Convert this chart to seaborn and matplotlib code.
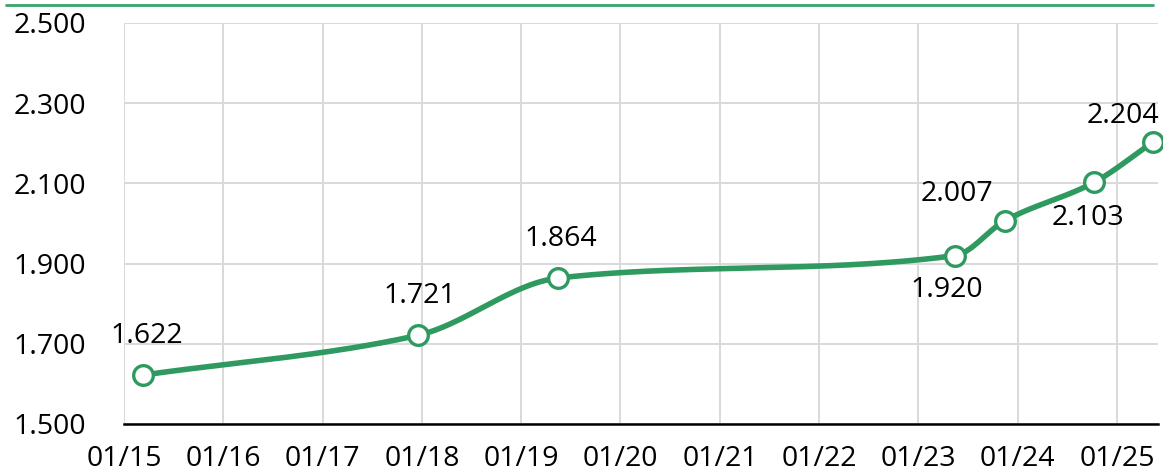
import numpy as np
import pandas as pd
import matplotlib
matplotlib.use("Agg")
import matplotlib.pyplot as plt
import matplotlib.dates as mdates
from matplotlib.lines import Line2D
import seaborn as sns

# data
dates = ["2015-03-12", "2017-12-16", "2019-05-17", "2023-05-15",
         "2023-11-15", "2024-10-09", "2025-05-14"]
values = [1622, 1721, 1864, 1920, 2007, 2103, 2204]
y_ticks = [1500, 1700, 1900, 2100, 2300, 2500]

# label offsets in pixels (dx, dy) relative to each marker
label_offsets = [(4, 39), (2, 39), (3, 39), (-8, -34), (-48, 27), (-6, -36), (-30, 26)]

GREEN = "#2e9a5f"


def pchip(x, y, xs):
    # monotone cubic (Fritsch-Carlson), just for a smooth line like the original
    x = np.asarray(x, float)
    y = np.asarray(y, float)
    h = np.diff(x)
    d = np.diff(y) / h
    m = np.zeros_like(y)
    for k in range(1, len(x) - 1):
        if d[k - 1] * d[k] > 0:
            w1 = 2 * h[k] + h[k - 1]
            w2 = h[k] + 2 * h[k - 1]
            m[k] = (w1 + w2) / (w1 / d[k - 1] + w2 / d[k])
    m[0] = d[0]
    m[-1] = d[-1]
    idx = np.clip(np.searchsorted(x, xs) - 1, 0, len(x) - 2)
    t = (xs - x[idx]) / h[idx]
    h00 = 2 * t**3 - 3 * t**2 + 1
    h10 = t**3 - 2 * t**2 + t
    h01 = -2 * t**3 + 3 * t**2
    h11 = t**3 - t**2
    return h00 * y[idx] + h10 * h[idx] * m[idx] + h01 * y[idx + 1] + h11 * h[idx] * m[idx + 1]


xnum = mdates.date2num(pd.to_datetime(dates))
xs = np.linspace(xnum[0], xnum[-1], 600)
ys = pchip(xnum, values, xs)

sns.set_style("white")
plt.rcParams["font.family"] = ["Open Sans", "DejaVu Sans"]
FS = 20.5

fig = plt.figure(figsize=(11.63, 4.76), dpi=100)
ax = fig.add_axes([124 / 1163, 52 / 476, 1034 / 1163, 401 / 476])

sns.lineplot(x=xs, y=ys, ax=ax, color=GREEN, lw=4, zorder=3)
sns.scatterplot(x=xnum, y=values, ax=ax, s=200, color="white", edgecolor=GREEN,
                linewidth=2.4, zorder=4, clip_on=False)

for xv, yv, (dx, dy) in zip(xnum, values, label_offsets):
    ax.annotate(f"{yv/1000:.3f}", (xv, yv), xytext=(dx, dy), textcoords="offset pixels",
                ha="center", va="center", fontsize=FS, color="black", zorder=5)

ax.set_xlim(mdates.date2num(pd.Timestamp("2015-01-01")), mdates.date2num(pd.Timestamp("2025-05-31")))
ax.set_ylim(1500, 2500)
ax.set_yticks(y_ticks)
ax.set_yticklabels([f"{v/1000:.3f}" for v in y_ticks])
ax.xaxis.set_major_locator(mdates.YearLocator())
ax.xaxis.set_major_formatter(mdates.DateFormatter("%m/%y"))

ax.grid(True, color="#d9d9d9", lw=1.4)
ax.set_axisbelow(True)
for s in ["top", "right", "left"]:
    ax.spines[s].set_visible(False)
ax.spines["bottom"].set_color("black")
ax.spines["bottom"].set_linewidth(1.8)
ax.tick_params(axis="x", length=7, width=1.8, color="black", pad=8, labelsize=FS, labelcolor="black")
ax.tick_params(axis="y", length=0, pad=27, labelsize=FS, labelcolor="black")
ax.set_xlabel("")
ax.set_ylabel("")

fig.add_artist(Line2D([6 / 1163, 1153 / 1163], [1 - 5 / 476, 1 - 5 / 476],
                      color="#3aa36b", lw=2, transform=fig.transFigure))

fig.savefig("out.png", dpi=100)
